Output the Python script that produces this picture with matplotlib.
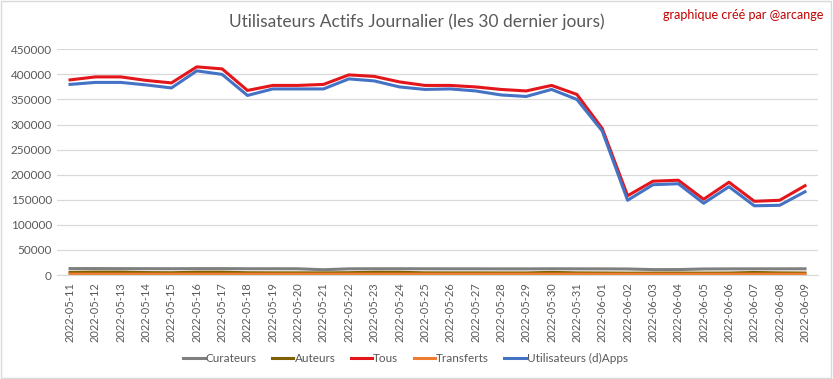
import matplotlib.pyplot as plt
from matplotlib.patches import Rectangle

dates = ["2022-05-11", "2022-05-12", "2022-05-13", "2022-05-14", "2022-05-15",
         "2022-05-16", "2022-05-17", "2022-05-18", "2022-05-19", "2022-05-20",
         "2022-05-21", "2022-05-22", "2022-05-23", "2022-05-24", "2022-05-25",
         "2022-05-26", "2022-05-27", "2022-05-28", "2022-05-29", "2022-05-30",
         "2022-05-31", "2022-06-01", "2022-06-02", "2022-06-03", "2022-06-04",
         "2022-06-05", "2022-06-06", "2022-06-07", "2022-06-08", "2022-06-09"]

curateurs = [12800, 12800, 12700, 12600, 12500, 12700, 12700, 12500, 12500, 12400,
             10500, 12300, 12500, 12500, 12400, 12300, 12300, 12200, 12200, 12400,
             12300, 12200, 12000, 10800, 10800, 12000, 12200, 12300, 12300, 12400]
auteurs = [5200, 5800, 5800, 4800, 4500, 5600, 5600, 4500, 4300, 4300,
           4200, 4600, 5500, 5400, 4300, 4200, 4200, 4100, 4100, 5200,
           4200, 4000, 3700, 3800, 3900, 3800, 3900, 5000, 4200, 3900]
tous = [389000, 395000, 395000, 388000, 383000, 415000, 411000, 368000, 378000, 378000,
        380000, 399000, 396000, 385000, 378000, 378000, 375000, 370000, 367000, 378000,
        360000, 292000, 158000, 187000, 189000, 151000, 185000, 147000, 149000, 178000]
transferts = [1800, 1800, 1800, 1800, 1800, 1800, 1800, 1800, 1800, 1800,
              1800, 1800, 1800, 1800, 1800, 1800, 1800, 1800, 1800, 1800,
              1800, 1700, 1700, 1700, 1700, 1700, 1700, 1700, 1700, 1700]
dapps = [380000, 384000, 384000, 379000, 373000, 407000, 400000, 358000, 371000, 371000,
         371000, 391000, 387000, 375000, 370000, 371000, 367000, 359000, 356000, 370000,
         350000, 287000, 149000, 180000, 182000, 143000, 176000, 138000, 139000, 166000]

GREY_TXT = "#595959"

fig = plt.figure(figsize=(8.33, 3.79), dpi=100)
plt.rcParams["font.family"] = ["Lato", "DejaVu Sans"]
ax = fig.add_axes([0.0689, 0.2744, 0.9127, 0.5955])

x = list(range(len(dates)))
ax.plot(x, curateurs, color="#7f7f7f", lw=2.2, label="Curateurs")
ax.plot(x, auteurs, color="#7f6000", lw=2.2, label="Auteurs")
ax.plot(x, tous, color="#e3161b", lw=2.2, label="Tous")
ax.plot(x, transferts, color="#ed7d31", lw=2.2, label="Transferts")
ax.plot(x, dapps, color="#4472c4", lw=2.2, label="Utilisateurs (d)Apps")

ax.set_xlim(-0.5, len(dates) - 0.5)
ax.set_ylim(0, 450000)
ax.set_yticks(range(0, 450001, 50000))
ax.set_yticklabels([str(v) for v in range(0, 450001, 50000)])
ax.set_xticks(x)
ax.set_xticklabels(dates, rotation=90)
ax.tick_params(axis="y", length=0, labelsize=8.5, colors=GREY_TXT, pad=4)
ax.tick_params(axis="x", length=0, labelsize=8, colors=GREY_TXT, pad=5)
ax.grid(axis="y", color="#d9d9d9", lw=0.9)
ax.set_axisbelow(True)
for side in ["top", "right", "left"]:
    ax.spines[side].set_visible(False)
ax.spines["bottom"].set_color("#d9d9d9")

fig.text(0.5, 0.942, "Utilisateurs Actifs Journalier (les 30 dernier jours)",
         ha="center", va="center", fontsize=12.5, color=GREY_TXT)
fig.text(0.988, 0.96, "graphique créé par @arcange", ha="right", va="center",
         fontsize=9, color="#c00000")

fig.legend(loc="center", bbox_to_anchor=(0.487, 0.055), ncol=5, frameon=False,
           fontsize=8.5, labelcolor=GREY_TXT, handlelength=1.8, handletextpad=0.1,
           columnspacing=1.3)

fig.patches.append(Rectangle((0.001, 0.002), 0.997, 0.995, transform=fig.transFigure,
                             fill=False, edgecolor="#d9d9d9", lw=1))

fig.savefig("out.png", dpi=100)
